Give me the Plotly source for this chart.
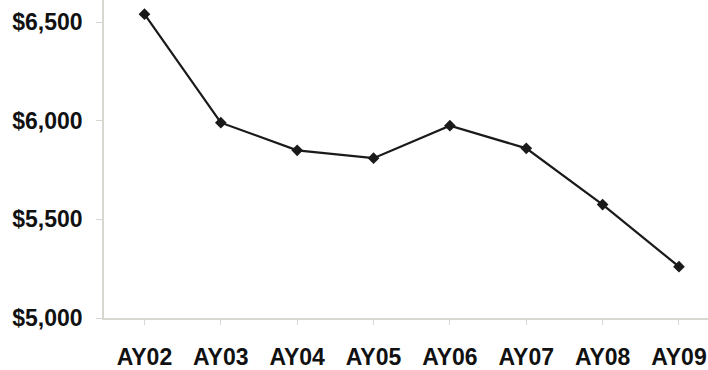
import plotly.graph_objects as go

# Academic years and the average value for each
years = ["AY02", "AY03", "AY04", "AY05", "AY06", "AY07", "AY08", "AY09"]
values = [6540, 5990, 5850, 5810, 5975, 5860, 5575, 5260]
y_ticks = [5000, 5500, 6000, 6500]

fig = go.Figure(
    go.Scatter(
        x=years,
        y=values,
        mode="lines+markers",
        line=dict(color="#1a1a1a", width=2.2),
        marker=dict(symbol="diamond", size=9, color="#1a1a1a"),
        showlegend=False,
    )
)

axis_color = "#d6d9cf"
tick_font = dict(family="Liberation Sans, Arial, sans-serif", size=23, color="#111111", weight="bold")

fig.update_layout(
    width=708,
    height=370,
    margin=dict(l=104, r=0, t=0, b=50),
    paper_bgcolor="white",
    plot_bgcolor="white",
)

fig.update_xaxes(
    type="category",
    range=[-0.53, 7.38],
    showline=True,
    linecolor=axis_color,
    linewidth=1.5,
    ticks="outside",
    ticklen=5,
    tickcolor=axis_color,
    showgrid=False,
    zeroline=False,
    tickfont=tick_font,
    ticklabelstandoff=13,
)

fig.update_yaxes(
    range=[5000, 6612],
    tickvals=y_ticks,
    tickformat="$,.0f",
    showline=True,
    linecolor=axis_color,
    linewidth=1.5,
    ticks="outside",
    ticklen=6,
    tickcolor=axis_color,
    showgrid=False,
    zeroline=False,
    tickfont=tick_font,
    ticklabelstandoff=9,
)

fig.write_html("out.html")
